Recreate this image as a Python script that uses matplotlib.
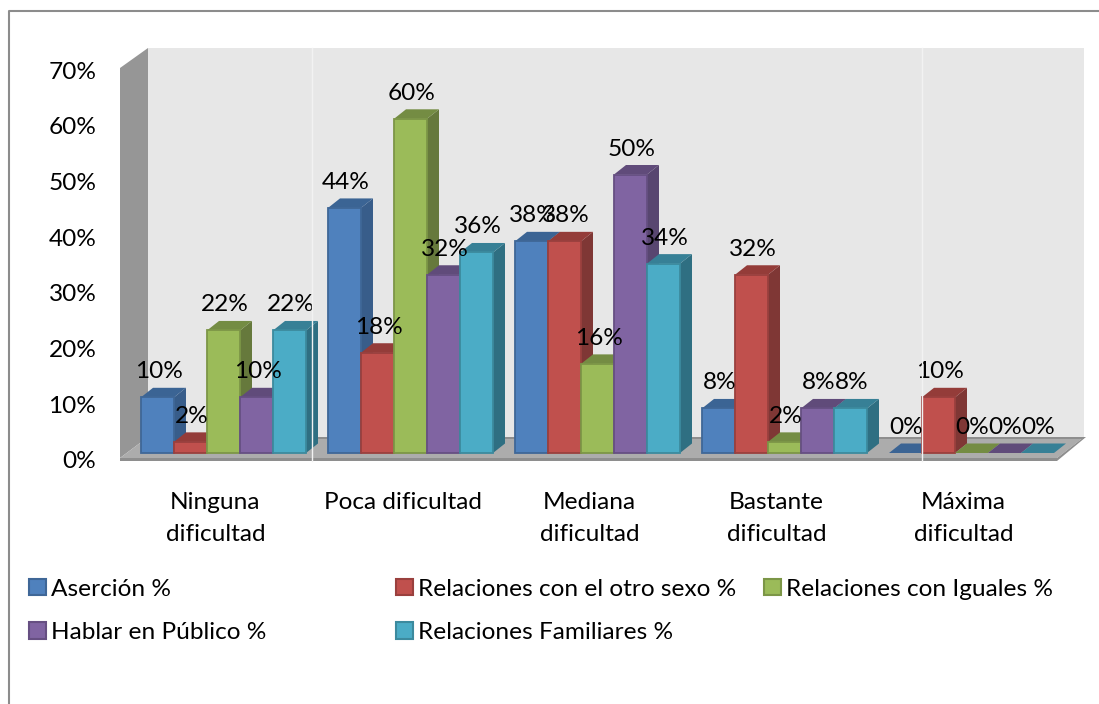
import matplotlib
matplotlib.use("Agg")
import matplotlib.pyplot as plt
from matplotlib.patches import Polygon, Patch
from matplotlib.lines import Line2D
from matplotlib.transforms import Affine2D, ScaledTranslation

categories = ["Ninguna\ndificultad", "Poca dificultad", "Mediana\ndificultad",
              "Bastante\ndificultad", "Máxima\ndificultad"]
series_names = ["Aserción %", "Relaciones con el otro sexo %", "Relaciones con Iguales %",
                "Hablar en Público %", "Relaciones Familiares %"]
asercion = [10, 44, 38, 8, 0]
otro_sexo = [2, 18, 38, 32, 10]
iguales = [22, 60, 16, 2, 0]
publico = [10, 32, 50, 8, 0]
familiares = [22, 36, 34, 8, 0]
y_ticks = [0, 10, 20, 30, 40, 50, 60, 70]

front = ["#4F81BD", "#C0504D", "#9BBB59", "#8064A2", "#4BACC6"]
edge = ["#3F6797", "#9A403E", "#7C9647", "#664F82", "#3C8A9E"]
top = ["#3B6494", "#943C39", "#748C43", "#604B7A", "#378096"]
side = ["#385D8A", "#7F3735", "#66793C", "#584670", "#2F6F82"]

W, H = 1099, 704
FS = 17.6
plt.rcParams["font.family"] = ["Lato", "DejaVu Sans"]
fig = plt.figure(figsize=(W / 100, H / 100), dpi=100)
px = Affine2D().scale(1, -1).translate(0, H)

# axes over the plot area (pixel box 120..1085 x 48..461)
L, R, T, B = 120, 1085, 48, 461
ax = fig.add_axes([L / W, 1 - B / H, (R - L) / W, (B - T) / H])
PX_CAT, X0 = 187.0, 223.5
PX_VAL, Y0 = 5.57, 453.0
ax.set_xlim((L - X0) / PX_CAT, (R - X0) / PX_CAT)
ax.set_ylim((Y0 - B) / PX_VAL, (Y0 - T) / PX_VAL)
ax.patch.set_visible(False)
for s in ax.spines.values():
    s.set_visible(False)
ax.tick_params(length=0)

# frame of the picture
fig.add_artist(Line2D([8.5, 8.5, W], [H, 10.5, 10.5], color="#8C8C8C", lw=1.5, transform=px))

# walls and floor
def chrome(points, color, z):
    fig.add_artist(Polygon(points, closed=True, facecolor=color, edgecolor="none",
                           transform=px, zorder=z))

chrome([(148, 48), (1084, 48), (1084, 437), (148, 437)], "#E7E7E7", -5)
chrome([(120, 68), (148, 48), (148, 437), (120, 458)], "#969696", -5)
chrome([(120, 458), (148, 437), (1084, 437), (1057, 458)], "#ACACAC", -5)
chrome([(1084, 437), (1086, 437), (1057, 461), (1057, 458)], "#8E8E8E", -5)
chrome([(120, 458), (1057, 458), (1057, 461), (120, 461)], "#8E8E8E", -5)
chrome([(148, 437), (1084, 437), (1084, 439), (148, 439)], "#8E8E8E", -5)

# bars
values = [asercion, otro_sexo, iguales, publico, familiares]
w = 33.0 / PX_CAT
dx = 12.0 / PX_CAT
dy = 9.5 / PX_VAL
z = 2
for i in range(len(categories)):
    for j, vals in enumerate(values):
        v = vals[i]
        x0 = i + (j - 2.5) * w
        x1 = x0 + w
        ax.add_patch(Polygon([(x1, 0), (x1 + dx, dy), (x1 + dx, v + dy), (x1, v)],
                             facecolor=side[j], edgecolor="none", zorder=z, clip_on=False))
        ax.add_patch(Polygon([(x0, v), (x1, v), (x1 + dx, v + dy), (x0 + dx, v + dy)],
                             facecolor=top[j], edgecolor="none", zorder=z, clip_on=False))
        if v > 0:
            ax.bar(x0, v, width=w, align="edge", color=front[j], edgecolor=edge[j],
                   linewidth=1.3, zorder=z + 0.5, clip_on=False)
        z += 1

# value labels
for i in range(len(categories)):
    for j, vals in enumerate(values):
        v = vals[i]
        ax.annotate(f"{v}%", (i + (j - 2.0) * w + 1.0 / PX_CAT, v + dy), xytext=(0, 16),
                    textcoords="offset pixels", ha="center", va="center",
                    fontsize=FS, color="black", zorder=200, annotation_clip=False)

# thin white rules crossing the plot
for xp in (311.5, 921.5):
    fig.add_artist(Line2D([xp, xp], [48, 461], color="#F2F2F2", lw=1.0, transform=px, zorder=5))
ax.set_zorder(3)

# axes tick labels
ax.set_yticks(y_ticks)
ax.set_yticklabels([f"{t}%" for t in y_ticks], fontsize=FS)
ax.tick_params(axis="y", pad=17)
yshift = ScaledTranslation(0, -7 / 100, fig.dpi_scale_trans)
for t in ax.get_yticklabels():
    t.set_transform(t.get_transform() + yshift)

ax.set_xticks(range(len(categories)))
ax.set_xticklabels(categories, fontsize=FS, linespacing=1.62)
ax.tick_params(axis="x", pad=22.5)
xshift = ScaledTranslation(-8 / 100, 0, fig.dpi_scale_trans)
for t in ax.get_xticklabels():
    t.set_transform(t.get_transform() + xshift)

# legend, three columns
def legend(idx, xp, yp):
    handles = [Patch(facecolor=front[k], edgecolor=edge[k], linewidth=1.5, label=series_names[k]) for k in idx]
    lg = fig.legend(handles=handles, loc="upper left", bbox_to_anchor=(xp, yp), bbox_transform=px,
                    frameon=False, fontsize=FS, borderpad=0, borderaxespad=0, handlelength=0.68,
                    handleheight=0.68, handletextpad=0.22, labelspacing=0.93)
    return lg

legend([0, 3], 29, 578.5)
legend([1, 4], 396, 578.5)
legend([2], 764, 578.5)

fig.savefig("out.png", dpi=100)
